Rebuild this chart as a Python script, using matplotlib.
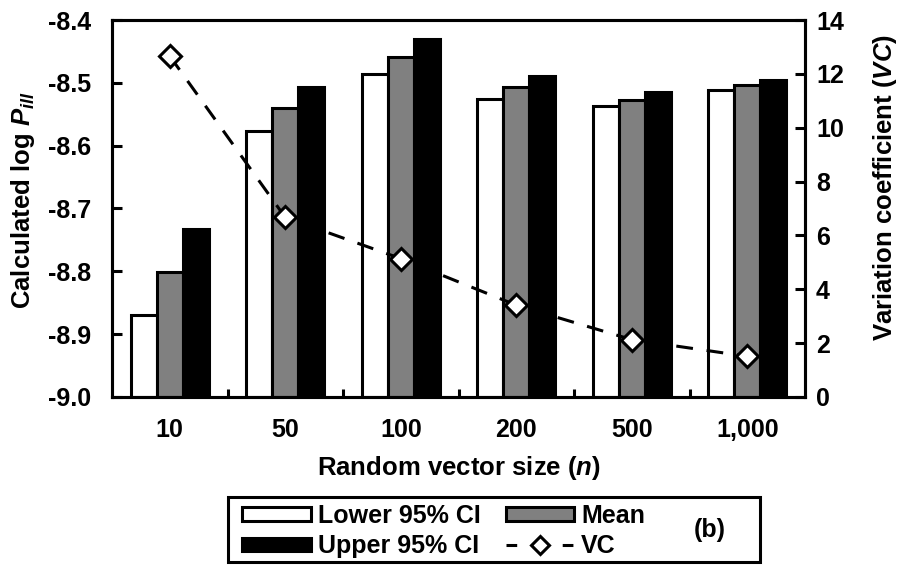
import matplotlib
matplotlib.use("Agg")
import matplotlib.pyplot as plt
import numpy as np
from matplotlib.patches import Rectangle, Patch
from matplotlib.lines import Line2D

plt.rcParams['font.family'] = ['Liberation Sans', 'DejaVu Sans']
plt.rcParams['font.weight'] = 'bold'
plt.rcParams['mathtext.fontset'] = 'custom'
plt.rcParams['mathtext.it'] = 'Liberation Sans:italic:bold'
plt.rcParams['mathtext.rm'] = 'Liberation Sans:bold'
plt.rcParams['mathtext.bf'] = 'Liberation Sans:bold'

categories = ['10', '50', '100', '200', '500', '1,000']
lower_ci = [-8.870, -8.576, -8.486, -8.526, -8.537, -8.511]
mean_vals = [-8.801, -8.540, -8.459, -8.507, -8.528, -8.503]
upper_ci = [-8.733, -8.506, -8.431, -8.489, -8.514, -8.495]
vc_vals = [12.66, 6.67, 5.14, 3.41, 2.13, 1.51]
left_ticks = [-9.0, -8.9, -8.8, -8.7, -8.6, -8.5, -8.4]
right_ticks = [0, 2, 4, 6, 8, 10, 12, 14]

W, H = 899, 567
fig = plt.figure(figsize=(W / 100, H / 100), dpi=100)

def fx(px):
    return px / W

def fy(py):
    return 1 - py / H

ax_l, ax_r, ax_t, ax_b = 112, 805, 20, 397
ax = fig.add_axes([fx(ax_l), fy(ax_b), fx(ax_r - ax_l), (ax_b - ax_t) / H])

x = np.arange(len(categories))
bw = 0.225
base = -9.0
lw = 2.2
ax.bar(x - bw, np.array(lower_ci) - base, bw, bottom=base, color='white',
       edgecolor='black', linewidth=lw, zorder=2)
ax.bar(x, np.array(mean_vals) - base, bw, bottom=base, color='#808080',
       edgecolor='black', linewidth=lw, zorder=2)
ax.bar(x + bw, np.array(upper_ci) - base, bw, bottom=base, color='black',
       edgecolor='black', linewidth=lw, zorder=2)

ax.set_xlim(-0.5, len(categories) - 0.5)
ax.set_ylim(-9.0, -8.4)
ax.set_yticks(left_ticks)
ax.set_yticklabels([f'{t:.1f}' for t in left_ticks])
ax.set_xticks(x)
ax.set_xticklabels(categories)
ax.set_xticks(np.arange(0.5, len(categories) - 0.5, 1), minor=True)
ax.tick_params(axis='x', which='major', length=0, pad=15, labelsize=18)
ax.tick_params(axis='x', which='minor', direction='in', length=6, width=2.2)
ax.tick_params(axis='y', which='major', direction='in', length=7, width=2.2,
               pad=15, labelsize=18)
for s in ax.spines.values():
    s.set_linewidth(2.2)

ax2 = ax.twinx()
ax2.set_ylim(0, 14)
ax2.set_yticks(right_ticks)
ax2.tick_params(axis='y', direction='in', length=7, width=2.2, pad=8, labelsize=18)
ax2.plot(x, vc_vals, color='black', linestyle=(0, (5.5, 4.5)), linewidth=2.2,
         marker='D', markersize=11, markerfacecolor='white',
         markeredgecolor='black', markeredgewidth=2.2, zorder=3)
for s in ax2.spines.values():
    s.set_linewidth(2.2)

fig.text(fx(23), fy(200), 'Calculated log $P_{ill}$', rotation=90,
         ha='center', va='center', fontsize=18.5, fontweight='bold')
fig.text(fx(885), fy(188), 'Variation coefficient ($VC$)', rotation=90,
         ha='center', va='center', fontsize=18.5, fontweight='bold')
fig.text(fx(459), fy(468), 'Random vector size ($n$)',
         ha='center', va='center', fontsize=18.5, fontweight='bold')

# legend
handles = [
    Patch(facecolor='white', edgecolor='black', linewidth=2.2),
    Patch(facecolor='black', edgecolor='black', linewidth=2.2),
    Patch(facecolor='#808080', edgecolor='black', linewidth=2.2),
    Line2D([], [], color='black', linestyle=(0, (3.5, 14.9)), linewidth=2.2,
           marker='D', markersize=9, markerfacecolor='white',
           markeredgecolor='black', markeredgewidth=2.2),
]
labels = ['Lower 95% CI', 'Upper 95% CI', 'Mean', 'VC']
leg = fig.legend(handles, labels, ncol=2, loc='upper left',
                 bbox_to_anchor=(fx(242), fy(504)), frameon=False,
                 fontsize=18, handlelength=2.75, handleheight=0.45,
                 handletextpad=0.28, columnspacing=1.0, labelspacing=0.25,
                 borderpad=0, borderaxespad=0)
fig.add_artist(Rectangle((fx(228), fy(562)), fx(760 - 228), (562 - 497) / H,
                         transform=fig.transFigure, fill=False,
                         edgecolor='black', linewidth=2.2))
fig.text(fx(710), fy(530), '(b)', ha='center', va='center', fontsize=18,
         fontweight='bold')

fig.savefig('out.png', dpi=100)
